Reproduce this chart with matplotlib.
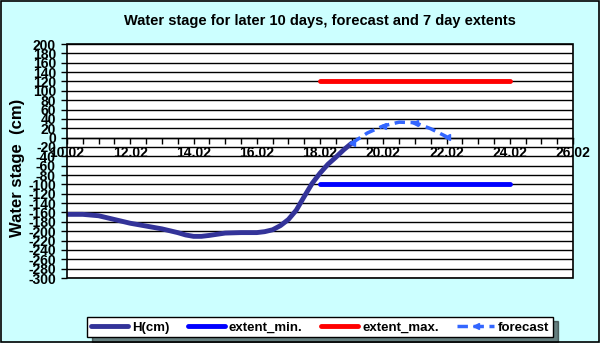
import numpy as np
import matplotlib
matplotlib.use("Agg")
import matplotlib.pyplot as plt
from matplotlib.patches import Rectangle
from matplotlib.ticker import MultipleLocator, FixedLocator, FixedFormatter

plt.rcParams['font.family'] = ['Liberation Sans', 'DejaVu Sans']
plt.rcParams['font.weight'] = 'bold'

# day of February -> water stage (cm)
h_days = [10.0, 10.5, 11.0, 11.5, 12.0, 12.5, 13.0, 13.5, 13.75, 14.0, 14.25, 14.5,
          15.0, 15.5, 16.0, 16.25, 16.5, 16.75, 17.0, 17.25, 17.5, 17.75,
          18.0, 18.25, 18.5, 18.75, 19.0]
h_values = [-164, -164, -167, -175, -183, -189, -195, -203, -208, -211, -211, -209,
            -204, -203, -203, -201, -197, -188, -175, -155, -126, -98,
            -76, -57, -42, -26, -12]

fc_days = [19.0, 19.5, 20.0, 20.5, 21.0, 21.5, 22.0]
fc_values = [-12, 10, 25, 33, 32, 19, 2]

ext_days = [18.0, 24.0]
ext_min = [-100, -100]
ext_max = [120, 120]

x_ticks = [10, 12, 14, 16, 18, 20, 22, 24, 26]
x_labels = ['10.02', '12.02', '14.02', '16.02', '18.02', '20.02', '22.02', '24.02', '26.02']
y_ticks = list(range(-300, 201, 20))

fig = plt.figure(figsize=(6, 3.43), dpi=100, facecolor='#CCFFFF')
fig.patches.append(Rectangle((0.001, 0.002), 0.997, 0.995, transform=fig.transFigure,
                             fill=False, edgecolor='black', linewidth=1.2))
ax = fig.add_axes([0.1117, 0.1895, 0.8433, 0.6822])
ax.set_facecolor('white')

ax.plot(h_days, h_values, color='#333399', lw=3.5, label='H(cm)', solid_capstyle='round',
        solid_joinstyle='round', zorder=4)
ax.plot(ext_days, ext_min, color='#0000FF', lw=3.5, label='extent_min.', solid_capstyle='round', zorder=3)
ax.plot(ext_days, ext_max, color='#FF0000', lw=3.5, label='extent_max.', solid_capstyle='round', zorder=3)
ax.plot(fc_days, fc_values, color='#3366FF', lw=2.5, ls=(0, (3, 1.6)), marker='<', ms=4,
        markevery=[0, 2, 4, 6], label='forecast', zorder=4)

ax.set_xlim(10, 26)
ax.set_ylim(-300, 200)
ax.set_yticks(y_ticks)
ax.set_yticklabels([str(v) for v in y_ticks], fontsize=10, fontweight='bold')
ax.yaxis.grid(True, color='black', lw=1)
ax.set_axisbelow(True)

ax.xaxis.set_major_locator(FixedLocator(x_ticks))
ax.xaxis.set_major_formatter(FixedFormatter(x_labels))
ax.xaxis.set_minor_locator(MultipleLocator(0.5))
ax.tick_params(axis='x', which='both', direction='out', length=4, width=1, pad=2,
               labelsize=10, color='black')
ax.tick_params(axis='y', length=4, width=1, pad=4)
for lab in ax.get_xticklabels():
    lab.set_fontweight('bold')

for s in ['top', 'right', 'left']:
    ax.spines[s].set_visible(False)
ax.spines['bottom'].set_position(('data', 0))
ax.spines['bottom'].set_linewidth(1)
ax.add_patch(Rectangle((0, 0), 1, 1, transform=ax.transAxes, fill=False,
                       edgecolor='black', lw=1.2, zorder=5, clip_on=False))

ax.set_title('Water stage for later 10 days, forecast and 7 day extents',
             fontsize=10.5, fontweight='bold', pad=14)
ax.set_ylabel('Water stage  (cm)', fontsize=12, fontweight='bold')
ax.yaxis.set_label_coords(-0.083, 0.47)

fig.legend(loc='center', bbox_to_anchor=(0.534, 0.0455), ncol=4, frameon=True,
           fancybox=False, edgecolor='black', facecolor='white', framealpha=1,
           shadow={'color': 'black', 'ox': 3, 'oy': -3},
           prop={'weight': 'bold', 'size': 9.5}, handlelength=2.8, columnspacing=1.4,
           borderpad=0.3, handletextpad=0.3)

fig.savefig('out.png', dpi=100, facecolor=fig.get_facecolor())
